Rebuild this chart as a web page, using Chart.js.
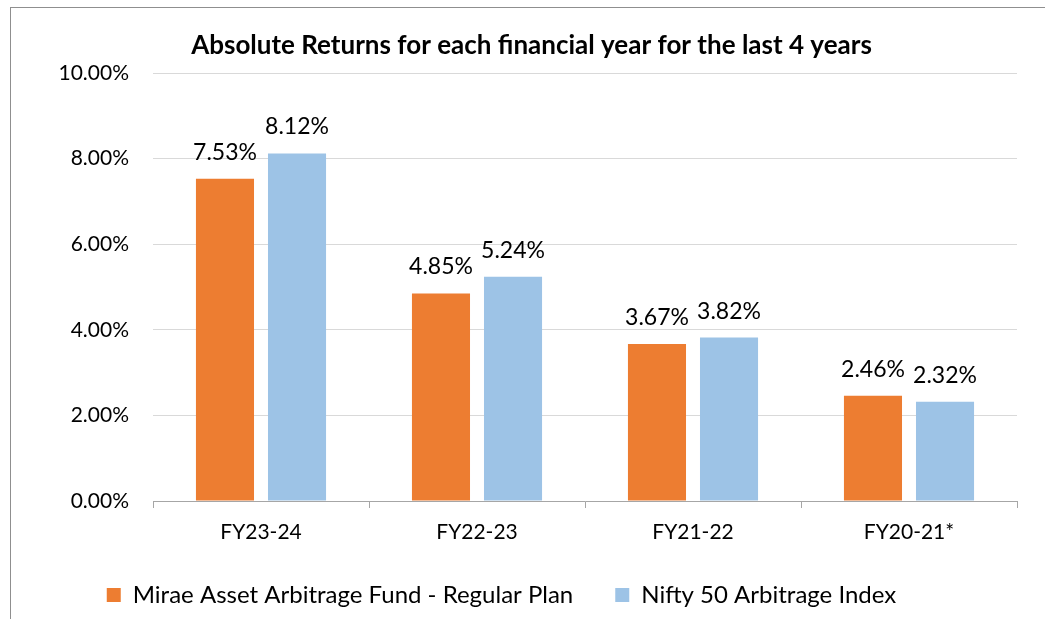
<!DOCTYPE html>
<html>
<head>
<meta charset="utf-8">
<title>Absolute Returns</title>
<script src="https://cdn.jsdelivr.net/npm/chart.js@4/dist/chart.umd.min.js"></script>
<style>
  html, body { margin: 0; padding: 0; background: #fff; }
  #wrap { position: relative; width: 1045px; height: 619px; overflow: hidden; }
  #frame {
    position: absolute; left: 10px; top: 7px; right: -5px; bottom: -5px;
    border-left: 1px solid #8f8f8f; border-top: 1px solid #8f8f8f;
    pointer-events: none;
  }
  #returnsChart { position: absolute; left: 0; top: 0; }
</style>
</head>
<body>
<div id="wrap">
  <canvas id="returnsChart" width="1045" height="619"></canvas>
  <div id="frame"></div>
</div>
<script>
// ========================================
// Chart data
// ========================================
const categories = ['FY23-24', 'FY22-23', 'FY21-22', 'FY20-21*'];
const fundReturns = [7.53, 4.85, 3.67, 2.46];
const indexReturns = [8.12, 5.24, 3.82, 2.32];
const yTicks = [0, 2, 4, 6, 8, 10];

const FONT = 'Lato, "Open Sans", "Liberation Sans", sans-serif';

// Value labels above each bar
const barLabels = {
  id: 'barLabels',
  afterDatasetsDraw(chart) {
    const ctx = chart.ctx;
    ctx.save();
    ctx.font = '23px ' + FONT;
    ctx.fillStyle = '#000';
    ctx.textAlign = 'center';
    ctx.textBaseline = 'alphabetic';
    chart.data.datasets.forEach((ds, i) => {
      chart.getDatasetMeta(i).data.forEach((bar, j) => {
        ctx.fillText(ds.data[j].toFixed(2) + '%', bar.x, bar.y - 19);
      });
    });
    ctx.restore();
  }
};

// Small horizontal nudges for title and legend boxes
const nudgeBoxes = {
  id: 'nudgeBoxes',
  afterLayout(chart) {
    if (chart.legend) {
      chart.legend.left -= 22;
      chart.legend.right -= 22;
    }
    if (chart.titleBlock) {
      chart.titleBlock.left += 8;
      chart.titleBlock.right += 8;
    }
  }
};

// Build chart
const ctx = document.getElementById('returnsChart');
new Chart(ctx, {
  type: 'bar',
  data: {
    labels: categories,
    datasets: [
      {
        label: 'Mirae Asset Arbitrage Fund - Regular Plan',
        data: fundReturns,
        backgroundColor: '#ED7D31',
        categoryPercentage: 0.667,
        barPercentage: 0.806
      },
      {
        label: 'Nifty 50 Arbitrage Index',
        data: indexReturns,
        backgroundColor: '#9DC3E6',
        categoryPercentage: 0.667,
        barPercentage: 0.806
      }
    ]
  },
  options: {
    responsive: false,
    animation: false,
    layout: { padding: { left: 30, right: 28, top: 0, bottom: 2 } },
    plugins: {
      title: {
        display: true,
        text: 'Absolute Returns for each financial year for the last 4 years',
        color: '#000',
        font: { family: FONT, size: 26, weight: 'bold' },
        padding: { top: 30, bottom: 11.8 }
      },
      legend: {
        position: 'bottom',
        labels: {
          color: '#000',
          font: { family: FONT, size: 24 },
          boxWidth: 14,
          boxHeight: 14,
          padding: 42
        }
      },
      tooltip: { enabled: false }
    },
    scales: {
      x: {
        afterFit: scale => { scale.height = 40; },
        grid: {
          display: true,
          drawOnChartArea: false,
          drawTicks: true,
          tickLength: 7,
          color: '#a6a6a6'
        },
        border: { color: '#a6a6a6' },
        ticks: {
          color: '#000',
          font: { family: FONT, size: 21 },
          padding: 12
        }
      },
      y: {
        min: 0,
        max: 10,
        afterBuildTicks: scale => { scale.ticks = yTicks.map(v => ({ value: v })); },
        afterFit: scale => { scale.width = 123; },
        grid: { color: '#d9d9d9', drawTicks: false },
        border: { display: false },
        ticks: {
          color: '#000',
          font: { family: FONT, size: 21 },
          padding: 24,
          callback: v => Number(v).toFixed(2) + '%'
        }
      }
    }
  },
  plugins: [barLabels, nudgeBoxes]
});
</script>
</body>
</html>
